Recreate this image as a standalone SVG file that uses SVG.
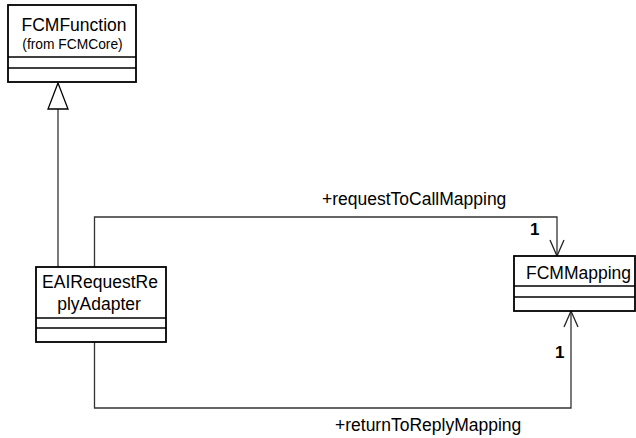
<svg xmlns="http://www.w3.org/2000/svg" width="636" height="438" viewBox="0 0 636 438">
  <style>
    .box { fill: #ffffff; stroke: #000000; stroke-width: 1.8; }
    .div { stroke: #000000; stroke-width: 1.4; }
    .name { font-family: "Liberation Sans", Arial, sans-serif; font-size: 17.5px; fill: #000000; }
    .sub { font-family: "Liberation Sans", Arial, sans-serif; font-size: 13.8px; fill: #000000; }
    .lbl { font-family: "Liberation Sans", Arial, sans-serif; font-size: 17.5px; fill: #000000; }
    .mult { font-family: "Liberation Sans", Arial, sans-serif; font-size: 17px; font-weight: bold; fill: #000000; }
    .line { fill: none; stroke: #333333; stroke-width: 1.3; }
    .open { fill: none; stroke: #222222; stroke-width: 1.3; }
    .gen { fill: #ffffff; stroke: #000000; stroke-width: 1.3; }
  </style>

  <!-- connectors -->
  <g id="connectors">
    <!-- generalization: adapter to FCMFunction -->
    <line class="line" x1="58" y1="109" x2="58" y2="267"/>
    <polygon class="gen" points="58,83 48,109 68,109"/>
    <!-- association: requestToCallMapping -->
    <polyline class="line" points="94.5,267 94.5,217 557,217 557,256"/>
    <polyline class="open" points="550,240 557,256 564,240"/>
    <text class="lbl" x="322" y="205">+requestToCallMapping</text>
    <text class="mult" x="530" y="235">1</text>
    <!-- association: returnToReplyMapping -->
    <polyline class="line" points="94.5,342 94.5,408 571,408 571,311"/>
    <polyline class="open" points="564,327 571,311 578,327"/>
    <text class="lbl" x="335" y="431">+returnToReplyMapping</text>
    <text class="mult" x="555" y="358">1</text>
  </g>

  <!-- FCMFunction class -->
  <g id="FCMFunction">
    <rect class="box" x="8" y="5" width="128" height="77"/>
    <line class="div" x1="8" y1="57" x2="136" y2="57"/>
    <line class="div" x1="8" y1="68" x2="136" y2="68"/>
    <text class="name" x="74" y="31" text-anchor="middle">FCMFunction</text>
    <text class="sub" x="72.5" y="49" text-anchor="middle">(from FCMCore)</text>
  </g>

  <!-- EAIRequestReplyAdapter class -->
  <g id="EAIRequestReplyAdapter">
    <rect class="box" x="36" y="267" width="130" height="75"/>
    <line class="div" x1="36" y1="318" x2="166" y2="318"/>
    <line class="div" x1="36" y1="328" x2="166" y2="328"/>
    <text class="name" x="100" y="288" text-anchor="middle">EAIRequestRe</text>
    <text class="name" x="99" y="310" text-anchor="middle">plyAdapter</text>
  </g>

  <!-- FCMMapping class -->
  <g id="FCMMapping">
    <rect class="box" x="514" y="256" width="121" height="55"/>
    <line class="div" x1="514" y1="286" x2="635" y2="286"/>
    <line class="div" x1="514" y1="297" x2="635" y2="297"/>
    <text class="name" x="526" y="279">FCMMapping</text>
  </g>
</svg>
